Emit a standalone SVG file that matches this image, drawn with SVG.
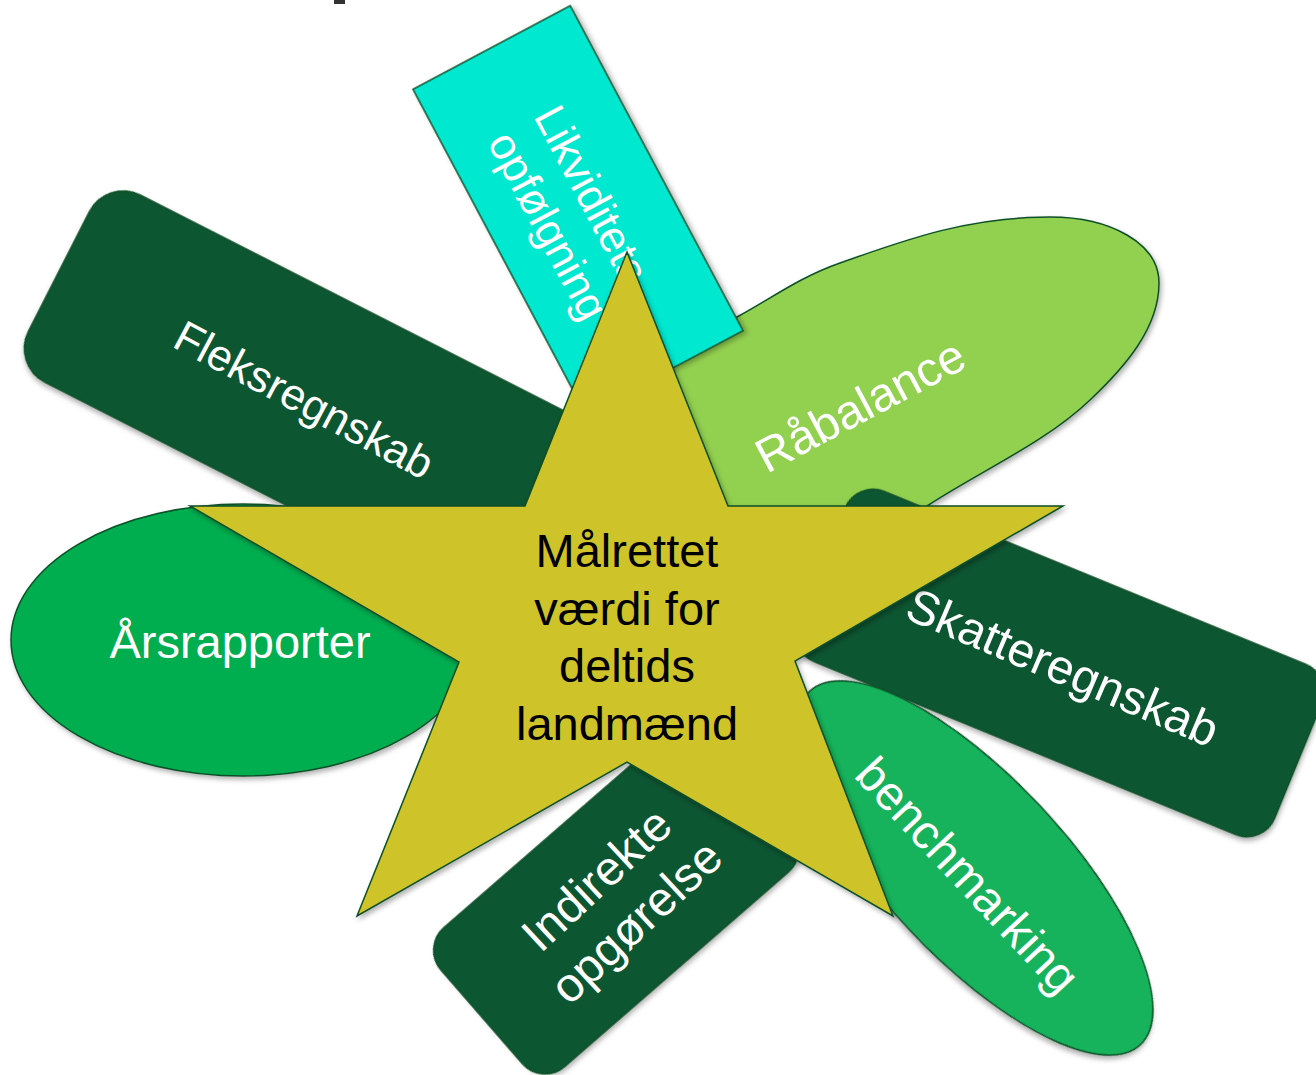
<svg xmlns="http://www.w3.org/2000/svg" width="1316" height="1075" viewBox="0 0 1316 1075">
<defs>
<filter id="sh" x="-20%" y="-20%" width="140%" height="140%">
<feDropShadow dx="2" dy="3" stdDeviation="2.5" flood-color="#000" flood-opacity="0.3"/>
</filter>
<style>
.shape{stroke:#0c4f27;stroke-width:1.5;filter:url(#sh)}
.dk{fill:#0a5630}
.lbl{font-family:"Liberation Sans",Arial,sans-serif;fill:#ffffff;text-anchor:middle}
.ctr{font-family:"Liberation Sans",Arial,sans-serif;fill:#000000;text-anchor:middle;font-size:47px}
</style>
</defs>
<rect x="334" y="0" width="11" height="4" fill="#333333"/>
<g id="node-raabalance">
<path class="shape" fill="#92d050" d="M927,506 C982,470 1045,443 1090,400 C1125,367 1159,328 1159,283 C1159,243 1110,217 1050,217 C970,217 910,238 840,263 C800,277 772,298 737,317 C710,332 670,360 650,380 C620,420 640,520 700,540 C780,560 880,530 927,506 Z"/>
<text class="lbl" font-size="48" transform="translate(860,405) rotate(-28)" x="0" y="17">Råbalance</text>
</g>
<g id="node-fleksregnskab">
<rect class="shape dk" transform="translate(306.7,397.7) rotate(27)" x="-278" y="-105" width="556" height="210" rx="38"/>
<text class="lbl" font-size="44" transform="translate(304,400) rotate(28)" x="0" y="15">Fleksregnskab</text>
</g>
<g id="node-likviditet">
<rect class="shape" fill="#06e8d0" transform="translate(578,210) rotate(-28)" x="-89" y="-184" width="178" height="368"/>
<text class="lbl" font-size="44" transform="translate(572,213) rotate(62)"><tspan x="0" y="-11">Likviditets-</tspan><tspan x="0" y="42">opfølgning</tspan></text>
</g>
<g id="node-skatteregnskab">
<rect class="shape dk" transform="translate(1060,663) rotate(22.3)" x="-257.5" y="-92" width="515" height="184" rx="30"/>
<text class="lbl" font-size="48" transform="translate(1063,667) rotate(23)" x="0" y="17">Skatteregnskab</text>
</g>
<g id="node-benchmarking">
<ellipse class="shape" fill="#15b35b" transform="translate(975,868) rotate(46.9)" cx="0" cy="0" rx="242" ry="90"/>
<text class="lbl" font-size="48" transform="translate(968,875) rotate(47)" x="0" y="17">benchmarking</text>
</g>
<g id="node-indirekte">
<rect class="shape dk" transform="translate(616,900) rotate(-41)" x="-178" y="-92" width="356" height="184" rx="30"/>
<text class="lbl" font-size="48" transform="translate(616,900) rotate(-43)"><tspan x="0" y="-12">Indirekte</tspan><tspan x="0" y="46">opgørelse</tspan></text>
</g>
<g id="node-aarsrapporter">
<ellipse class="shape" fill="#00ae50" cx="243" cy="640" rx="232" ry="136"/>
<text class="lbl" font-size="47" x="240" y="658">Årsrapporter</text>
</g>
<g id="node-center">
<polygon class="shape" fill="#cfc32a" points="627,252 728,506 1063,506 795,661 893,916 627,762 357,916 459,662 190,506 525,506"/>
<text class="ctr"><tspan x="627" y="567">Målrettet</tspan><tspan x="627" y="624.5">værdi for</tspan><tspan x="627" y="682">deltids</tspan><tspan x="627" y="739.5">landmænd</tspan></text>
</g>
<g id="connectors"/>
</svg>
